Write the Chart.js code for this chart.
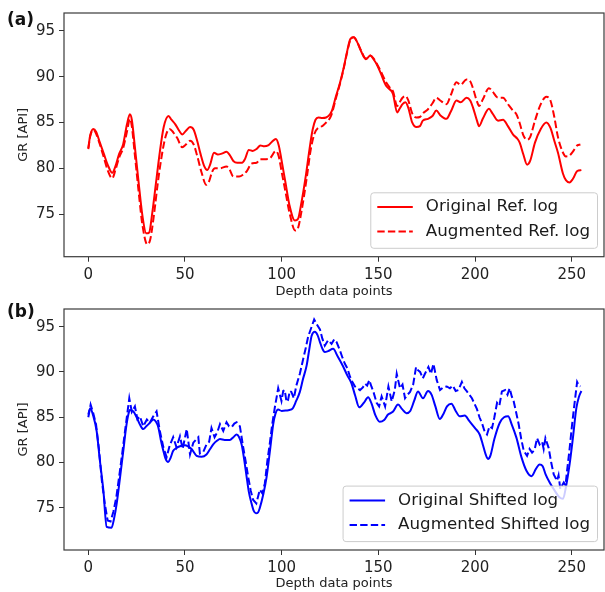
<!DOCTYPE html>
<html>
<head>
<meta charset="utf-8">
<script src="https://cdn.jsdelivr.net/npm/chart.js@4/dist/chart.umd.min.js"></script>
<style>
  body { margin: 0; background: #fff; width: 605px; height: 592px; position: relative; overflow: hidden; }
  canvas { position: absolute; left: 0; }
  #chart-a { top: 0; }
  #chart-b { top: 296px; }
  .tag { position: absolute; left: 7px; font: bold 17px "DejaVu Sans", sans-serif; line-height: 17px; color: #111; }
</style>
</head>
<body>
<canvas id="chart-a" width="605" height="300"></canvas>
<canvas id="chart-b" width="605" height="296"></canvas>
<div class="tag" style="top:11px">(a)</div>
<div class="tag" style="top:303px">(b)</div>
<script>
// panel (a): reference log, depth index vs GR
const refX = [0, 1, 2.6, 4, 6, 8, 10, 12.4, 14, 16, 18, 20, 21.5, 22.5, 24, 26, 28, 30, 31.5, 33, 35, 37, 39, 41.5, 43, 45, 47, 48.6, 50.5, 52.6, 54.5, 56.3, 58, 60, 61.5, 63, 65, 67, 69, 71.5, 73, 75, 77, 79.5, 81, 83, 85, 87, 89, 91, 93, 95, 97, 98.5, 100, 102, 104, 106.8, 108.5, 110, 112.5, 114, 116, 117.5, 119, 121, 123, 125, 126, 128, 130, 132, 134, 135.5, 137.3, 139, 141, 143.5, 145.9, 147.5, 149, 151, 154, 156, 157.6, 159.7, 161, 162.5, 164, 165.5, 167.5, 169.7, 171.5, 173, 175.7, 178, 180, 182, 185.2, 187.5, 190.4, 192.5, 195.6, 197.5, 199, 201, 202.1, 204, 207.2, 209, 211.9, 214.5, 217, 219.6, 222, 223.1, 225, 226.9, 228.5, 231, 234, 236.9, 239, 241, 242.9, 245.5, 247, 248.9, 250.5, 252.9, 255];
const refOriginal = [82.2, 83.6, 84.3, 84.0, 82.8, 81.6, 80.4, 79.5, 80.2, 81.6, 82.6, 84.8, 85.9, 85.3, 82.5, 78.5, 74.8, 72.9, 73.0, 75.0, 78.4, 81.8, 84.5, 85.7, 85.3, 84.8, 84.1, 83.7, 84.1, 84.5, 84.2, 83.0, 81.6, 80.2, 79.8, 80.4, 81.7, 81.5, 81.6, 81.8, 81.5, 80.8, 80.6, 80.6, 81.0, 82.0, 81.9, 82.1, 82.5, 82.4, 82.5, 82.9, 83.2, 82.5, 80.8, 78.4, 76.0, 74.3, 74.5, 76.0, 79.2, 81.5, 84.2, 85.3, 85.55, 85.5, 85.55, 85.9, 86.3, 87.8, 89.2, 90.9, 92.9, 94.1, 94.3, 93.8, 92.8, 91.9, 92.3, 91.9, 91.4, 90.5, 89.0, 88.6, 88.1, 86.1, 86.5, 87.0, 87.2, 86.6, 85.0, 84.5, 84.6, 85.2, 85.4, 85.7, 86.3, 85.8, 85.4, 86.2, 87.4, 87.2, 87.7, 87.4, 86.6, 85.2, 84.6, 85.4, 86.5, 86.0, 85.2, 85.3, 84.6, 83.7, 83.2, 82.8, 81.5, 80.4, 80.8, 82.8, 84.3, 85.0, 84.4, 83.0, 81.7, 79.4, 78.7, 78.45, 78.8, 79.7, 79.8];

const augRefX = [0, 1, 2.6, 4, 6, 8, 10, 12.4, 14, 16, 18, 20, 21.5, 22.5, 24, 26, 28, 30.5, 32, 34, 36, 38, 40, 42, 44, 46, 48.6, 50.5, 52.6, 54.5, 56.5, 58.5, 61, 62.5, 64, 65.5, 68, 71.5, 73, 75, 78, 80, 82, 84.4, 87, 89, 92, 94, 97, 98.5, 100, 102, 104, 107, 108.5, 110, 113, 115, 117, 119, 121, 123, 125, 126, 128, 130, 132, 134, 135.5, 137.3, 139, 141, 143.5, 145.9, 147.5, 149, 151, 154, 156, 157.6, 159.7, 161, 162.5, 164, 165.5, 167.5, 169.7, 171.5, 173, 175.7, 178, 180, 182, 185.2, 187.5, 190.4, 192.5, 195.6, 197.5, 199, 201, 202.1, 204, 207.2, 209, 211.9, 214.5, 217, 219.6, 221.4, 223, 225, 226.9, 228.5, 231, 234, 236.9, 239, 241, 242.9, 245.5, 247, 248.9, 250.5, 252.9, 254.5];
const refAugmented = [82.1, 83.5, 84.2, 83.8, 82.6, 81.2, 79.8, 78.9, 79.8, 81.2, 82.2, 84.0, 85.4, 84.6, 81.6, 77.5, 73.8, 71.7, 72.2, 75.0, 78.5, 81.4, 83.5, 84.3, 83.9, 83.3, 82.3, 82.6, 83.0, 82.6, 81.2, 79.6, 78.2, 78.6, 79.6, 80.0, 80.0, 80.2, 79.9, 79.1, 79.1, 79.3, 79.7, 80.5, 80.6, 81.0, 81.0, 81.1, 81.9, 81.3, 79.6, 77.4, 75.2, 73.2, 73.5, 75.0, 79.0, 82.0, 83.8, 84.45, 84.6, 85.0, 85.5, 86.0, 87.6, 89.1, 90.8, 92.8, 94.0, 94.3, 93.8, 92.9, 92.0, 92.3, 92.0, 91.5, 90.7, 89.4, 88.8, 88.4, 86.8, 87.2, 87.7, 87.9, 87.4, 86.0, 85.55, 85.6, 86.0, 86.45, 87.1, 87.7, 87.4, 87.0, 88.0, 89.4, 89.1, 89.7, 89.5, 88.7, 87.3, 86.8, 87.5, 88.75, 88.4, 87.7, 87.7, 87.0, 86.3, 85.9, 85.0, 83.6, 83.1, 83.4, 85.2, 87.0, 87.8, 87.4, 85.6, 83.4, 81.7, 81.3, 81.4, 81.8, 82.5, 82.6];

// panel (b): shifted log
const shiftX = [0, 1, 2.5, 4.3, 6, 7.8, 9.5, 12, 13.3, 14.7, 16.5, 18.1, 19.5, 20.7, 21.5, 23.3, 25, 26.7, 28.4, 30, 31.9, 33.6, 35, 36.2, 37.5, 38.8, 40, 41.3, 42.5, 43.9, 45.5, 47.4, 50, 51.5, 53.4, 56, 58.6, 61.1, 63, 64.6, 66.5, 68.1, 70.5, 73.2, 75, 76.7, 78, 79.3, 80.5, 81.9, 83, 84.4, 85.5, 86.7, 87.8, 88.7, 90.5, 92.2, 94, 95.6, 96.8, 98.2, 100, 102.5, 104, 105.6, 107.5, 109.4, 111, 112.9, 114.2, 115.5, 117.2, 118.5, 119.8, 121, 122.3, 124, 126.6, 129, 131.8, 134, 136.1, 138, 140.1, 142.5, 144.7, 146.5, 148.5, 150.7, 153, 155, 157.5, 160.2, 162.3, 164.5, 166.5, 168.5, 170.5, 173.1, 175.7, 177.5, 179.5, 181.8, 183.5, 185.5, 187.8, 190, 192.1, 194.7, 197, 200, 202.4, 204, 205.5, 206.7, 208, 210, 212.8, 215, 217.1, 219, 221.4, 224, 226.6, 229.2, 231.5, 233.4, 235, 236.5, 238.6, 241.2, 243.5, 245.5, 247, 248.9, 250.5, 252.4, 253.8, 255];
const shiftOriginal = [85.3, 86.0, 85.2, 83.5, 80.2, 76.9, 72.9, 72.8, 73.8, 75.5, 78.5, 81.3, 83.8, 85.3, 85.8, 85.65, 85.0, 84.2, 83.7, 84.0, 84.4, 84.75, 84.5, 83.9, 82.5, 81.3, 80.4, 80.05, 80.5, 81.3, 81.6, 81.8, 81.9, 81.8, 81.5, 80.75, 80.65, 80.9, 81.5, 82.0, 82.4, 82.6, 82.5, 82.5, 82.8, 83.1, 82.8, 82.0, 80.5, 78.4, 76.8, 75.5, 74.7, 74.4, 74.5, 75.0, 76.5, 78.4, 81.4, 84.2, 85.4, 85.85, 85.7, 85.75, 85.8, 85.95, 86.8, 87.8, 89.2, 90.7, 92.4, 94.0, 94.45, 94.1, 93.3, 92.6, 92.2, 92.3, 92.55, 91.7, 90.6, 89.6, 88.75, 87.4, 86.1, 86.6, 87.2, 86.5, 85.2, 84.5, 84.7, 85.3, 85.6, 86.4, 85.9, 85.45, 85.7, 86.8, 87.85, 87.1, 87.9, 87.5, 86.2, 84.8, 85.3, 86.2, 86.5, 85.7, 85.1, 85.2, 84.6, 83.8, 83.1, 82.0, 80.9, 80.4, 80.8, 82.6, 84.4, 85.0, 85.1, 84.2, 82.75, 80.6, 79.1, 78.5, 79.3, 79.8, 79.6, 78.7, 77.8, 76.9, 76.2, 76.0, 77.3, 79.8, 82.5, 86.0, 87.3, 87.9];

const augShiftX = [0, 1.2, 2.5, 4, 5.5, 7, 8.5, 10, 11.5, 13, 14.5, 16.3, 18, 19.6, 21.2, 22.5, 24.1, 25.4, 26.7, 28.4, 30.3, 31.8, 33.6, 35.3, 37, 38.8, 40.5, 42.1, 43.9, 45.6, 47.4, 48.8, 50.9, 52.6, 54.3, 56.9, 57.7, 59.5, 61.1, 62.5, 63.7, 65.3, 66.8, 68.1, 69.8, 71.5, 72.8, 74.1, 75.5, 76.7, 78.4, 80.1, 81.4, 82.7, 84, 85.2, 86.9, 88.7, 90, 91.3, 92.6, 93.8, 95.1, 96.4, 98.2, 99.9, 100.8, 101.6, 102.5, 103.3, 104.2, 105, 106.3, 107.6, 109.4, 111.1, 112.4, 113.7, 115.5, 116.8, 118.3, 119.8, 121, 122.3, 124, 125.8, 127.2, 128.4, 130.1, 131.4, 132.7, 134, 135.3, 136.6, 137.9, 140.5, 142, 143.1, 144.2, 145.3, 146.4, 147.4, 149.1, 150.4, 151.7, 153.5, 155.2, 156.9, 158.5, 159.5, 161.2, 162.5, 163.8, 165.1, 166.4, 168, 169.5, 170.5, 171.6, 173, 174.1, 175.9, 177.2, 178.5, 180.2, 181.9, 183.6, 185.4, 187, 188.5, 190, 191.4, 193.2, 194.5, 195.8, 198.4, 201, 202.3, 203.6, 205, 206.2, 207.5, 208.8, 210, 211.4, 212.6, 213.9, 215.6, 216.8, 217.9, 219, 220, 221.3, 222.6, 223.9, 225.2, 226.9, 228.2, 229.5, 230.8, 232.1, 233.4, 234.7, 235.5, 236.4, 238.1, 239.4, 240.7, 242.4, 243.2, 244.1, 245.9, 246.8, 247.6, 248.9, 250.2, 251.5, 252.8, 253.7, 254.5];
const shiftAugmented = [85.0, 86.4, 85.5, 84.2, 81.5, 78.0, 75.5, 73.6, 73.5, 74.6, 76.2, 79.0, 81.8, 84.5, 87.1, 85.6, 86.2, 84.8, 85.1, 84.0, 84.75, 84.4, 85.1, 85.65, 83.5, 81.7, 80.6, 81.9, 82.8, 81.7, 82.9, 81.5, 83.7, 80.9, 82.2, 82.8, 81.0, 81.2, 82.0, 82.3, 83.8, 82.8, 83.4, 84.25, 83.5, 84.45, 84.0, 83.9, 84.3, 84.45, 84.0, 81.7, 80.1, 78.4, 76.9, 75.9, 75.5, 77.0, 76.6, 77.7, 80.2, 82.0, 84.2, 86.0, 88.2, 86.8, 87.9, 88.0, 86.7, 86.9, 87.9, 87.8, 87.1, 88.5, 89.8, 91.4, 92.6, 93.9, 95.0, 95.8, 95.2, 94.7, 93.7, 92.9, 93.5, 93.1, 93.6, 93.3, 92.4, 91.6, 90.9, 90.4, 89.5, 88.9, 88.4, 88.0, 88.3, 88.7, 88.5, 89.1, 88.4, 87.85, 86.6, 86.2, 87.3, 86.2, 88.4, 86.75, 88.0, 89.8, 88.2, 88.6, 87.1, 87.5, 87.8, 88.6, 90.55, 90.2, 90.0, 89.3, 89.8, 90.55, 89.8, 90.9, 89.1, 88.0, 88.3, 88.4, 88.2, 88.5, 87.9, 88.0, 88.9, 88.2, 87.85, 87.1, 85.9, 85.0, 84.35, 83.4, 83.1, 84.0, 83.8, 85.0, 86.6, 86.3, 87.85, 88.0, 87.5, 88.2, 87.3, 86.75, 85.5, 84.2, 82.6, 81.3, 80.75, 81.5, 81.1, 81.4, 82.7, 82.0, 82.3, 81.5, 82.7, 81.6, 80.0, 78.7, 78.0, 78.6, 77.1, 77.8, 77.5, 79.1, 81.5, 84.2, 86.6, 88.9, 88.5, 88.4];

const xTicks = [0, 50, 100, 150, 200, 250];
const yTicks = [75, 80, 85, 90, 95];

const toPoints = (xs, ys) => xs.map((x, i) => ({ x, y: ys[i] }));

Chart.defaults.font.family = '"DejaVu Sans", sans-serif';
Chart.defaults.color = "#222";

// matplotlib style full box around the plot area
const frame = {
  id: "frame",
  afterDraw(chart) {
    const { ctx, chartArea: ca } = chart;
    ctx.save();
    ctx.strokeStyle = "#3a3a3a";
    ctx.lineWidth = 1.2;
    ctx.strokeRect(ca.left, ca.top, ca.right - ca.left, ca.bottom - ca.top);
    ctx.restore();
  },
};

// legend box in the lower right corner, drawn over the lines
const boxLegend = {
  id: "boxLegend",
  afterDatasetsDraw(chart) {
    const { ctx, chartArea: ca } = chart;
    const sets = chart.data.datasets;
    ctx.save();
    ctx.font = '16.7px "DejaVu Sans", sans-serif';
    const tw = Math.max(...sets.map((d) => ctx.measureText(d.label).width));
    const pad = 6.5, handle = 35.5, gap = 13, row = 24.5;
    const w = pad + handle + gap + tw + 7.5;
    const h = 55.5;
    const right = ca.right - 6.5;
    const bottom = ca.bottom - 8.4;
    const left = right - w;
    const top = bottom - h;
    ctx.beginPath();
    ctx.roundRect(left, top, w, h, 3);
    ctx.fillStyle = "rgba(255,255,255,0.8)";
    ctx.fill();
    ctx.strokeStyle = "#cccccc";
    ctx.lineWidth = 1;
    ctx.stroke();
    sets.forEach((d, i) => {
      const y = top + 14.3 + i * row;
      ctx.beginPath();
      ctx.setLineDash(d.borderDash || []);
      ctx.strokeStyle = d.borderColor;
      ctx.lineWidth = d.borderWidth;
      ctx.moveTo(left + pad, y);
      ctx.lineTo(left + pad + handle, y);
      ctx.stroke();
      ctx.setLineDash([]);
      ctx.fillStyle = "#1a1a1a";
      ctx.textBaseline = "middle";
      ctx.fillText(d.label, left + pad + handle + gap, y);
    });
    ctx.restore();
  },
};

const makeScales = (xHeight) => ({
  x: {
    type: "linear",
    min: -12.57,
    max: 266.7,
    afterFit: (s) => { s.height = xHeight; },
    afterBuildTicks: (s) => { s.ticks = xTicks.map((v) => ({ value: v })); },
    grid: { drawOnChartArea: false, drawTicks: true, tickLength: 5, color: "#333" },
    border: { display: false },
    ticks: { font: { size: 15 }, padding: 4, maxRotation: 0, color: "#222" },
    title: { display: true, text: "Depth data points", font: { size: 13 }, padding: { top: 0, bottom: 1 }, color: "#222" },
  },
  y: {
    min: 70.35,
    max: 96.95,
    afterFit: (s) => { s.width = 64; },
    afterBuildTicks: (s) => { s.ticks = yTicks.map((v) => ({ value: v })); },
    grid: { drawOnChartArea: false, drawTicks: true, tickLength: 5, color: "#333" },
    border: { display: false },
    ticks: { font: { size: 15 }, padding: 4, color: "#222" },
    title: { display: true, text: "GR [API]", font: { size: 13 }, padding: { top: 16, bottom: 0 }, color: "#222" },
  },
});

const baseOptions = (padTop, xHeight) => ({
  responsive: false,
  animation: false,
  layout: { padding: { top: padTop, right: 1, left: 0, bottom: 0 } },
  elements: { point: { radius: 0 } },
  plugins: { legend: { display: false }, tooltip: { enabled: false } },
  scales: makeScales(xHeight),
});

new Chart(document.getElementById("chart-a"), {
  type: "line",
  data: {
    datasets: [
      {
        label: "Original Ref. log",
        data: toPoints(refX, refOriginal),
        borderColor: "#ff0000",
        borderWidth: 2,
        cubicInterpolationMode: "monotone",
      },
      {
        label: "Augmented Ref. log",
        data: toPoints(augRefX, refAugmented),
        borderColor: "#ff0000",
        borderWidth: 2,
        borderDash: [7.4, 3.2],
        cubicInterpolationMode: "monotone",
      },
    ],
  },
  options: baseOptions(12.3, 43.3),
  plugins: [boxLegend, frame],
});

new Chart(document.getElementById("chart-b"), {
  type: "line",
  data: {
    datasets: [
      {
        label: "Original Shifted log",
        data: toPoints(shiftX, shiftOriginal),
        borderColor: "#0000ff",
        borderWidth: 2,
        cubicInterpolationMode: "monotone",
      },
      {
        label: "Augmented Shifted log",
        data: toPoints(augShiftX, shiftAugmented),
        borderColor: "#0000ff",
        borderWidth: 2,
        borderDash: [7.4, 3.2],
        tension: 0,
      },
    ],
  },
  options: baseOptions(9.7, 42),
  plugins: [boxLegend, frame],
});
</script>
</body>
</html>
